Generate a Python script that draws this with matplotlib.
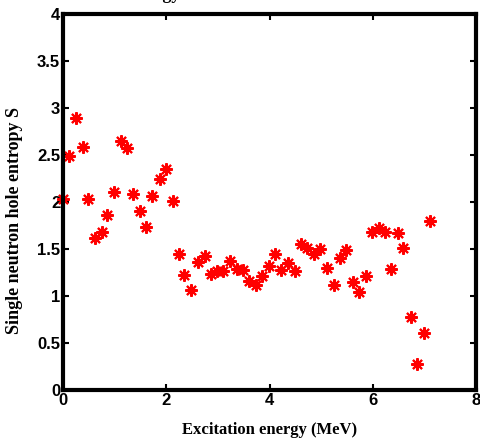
import matplotlib
matplotlib.use("Agg")
import matplotlib.pyplot as plt

# excitation energy (MeV) and single neutron hole entropy
energy = [0.00, 0.11, 0.26, 0.38, 0.49, 0.62, 0.75, 0.86, 0.98, 1.13,
          1.24, 1.36, 1.49, 1.61, 1.73, 1.87, 2.00, 2.12, 2.24, 2.35,
          2.48, 2.61, 2.74, 2.86, 2.99, 3.10, 3.23, 3.36, 3.49, 3.61,
          3.74, 3.86, 3.98, 4.10, 4.23, 4.36, 4.49, 4.60, 4.73, 4.86,
          4.98, 5.12, 5.24, 5.36, 5.48, 5.61, 5.73, 5.86, 5.99, 6.11,
          6.24, 6.35, 6.48, 6.59, 6.73, 6.86, 6.98, 7.11]
entropy = [2.03, 2.49, 2.89, 2.58, 2.03, 1.62, 1.68, 1.86, 2.11, 2.65,
           2.57, 2.09, 1.90, 1.73, 2.06, 2.24, 2.35, 2.01, 1.45, 1.22,
           1.06, 1.36, 1.42, 1.23, 1.27, 1.27, 1.37, 1.29, 1.28, 1.16,
           1.12, 1.21, 1.32, 1.45, 1.28, 1.35, 1.27, 1.55, 1.51, 1.45,
           1.50, 1.30, 1.12, 1.40, 1.49, 1.15, 1.04, 1.21, 1.68, 1.72,
           1.68, 1.29, 1.67, 1.51, 0.78, 0.28, 0.61, 1.80]

xticks = [0, 2, 4, 6, 8]
yticks = [0, 0.5, 1, 1.5, 2, 2.5, 3, 3.5, 4]
yticklabels = ["0", "0.5", "1", "1.5", "2", "2.5", "3", "3.5", "4"]

fig = plt.figure(figsize=(4.81, 4.41), dpi=100)
ax = fig.add_axes([0.131, 0.116, 0.859, 0.852])

ax.plot(energy, entropy, linestyle="none", marker=(8, 2, 0), markersize=9,
        markeredgewidth=1.5, color="red", markeredgecolor="red", clip_on=False)

ax.set_xlim(0, 8)
ax.set_ylim(0, 4)
ax.set_xticks(xticks)
ax.set_xticklabels([str(t) for t in xticks])
ax.set_yticks(yticks)
ax.set_yticklabels(yticklabels)

for s in ax.spines.values():
    s.set_linewidth(3)
ax.tick_params(direction="in", length=4, width=1.5, top=True, right=True,
               labelsize=12, pad=2)
for lab in ax.get_xticklabels() + ax.get_yticklabels():
    lab.set_fontweight("bold")
    lab.set_family("Liberation Sans")

ax.set_xlabel("Excitation energy (MeV)", family="Liberation Serif",
              fontweight="bold", fontsize=12, labelpad=10)
ax.set_ylabel("Single neutron hole entropy S", family="Liberation Serif",
              fontweight="bold", fontsize=13)
ax.yaxis.set_label_coords(-0.097, 0.45)

# title mostly cut off at the top edge, only descenders show
fig.text(0.375, 1.003, "S vs. energy", family="Liberation Serif",
         fontweight="bold", fontsize=13, ha="right", va="baseline")

fig.savefig("out.png", dpi=100)
